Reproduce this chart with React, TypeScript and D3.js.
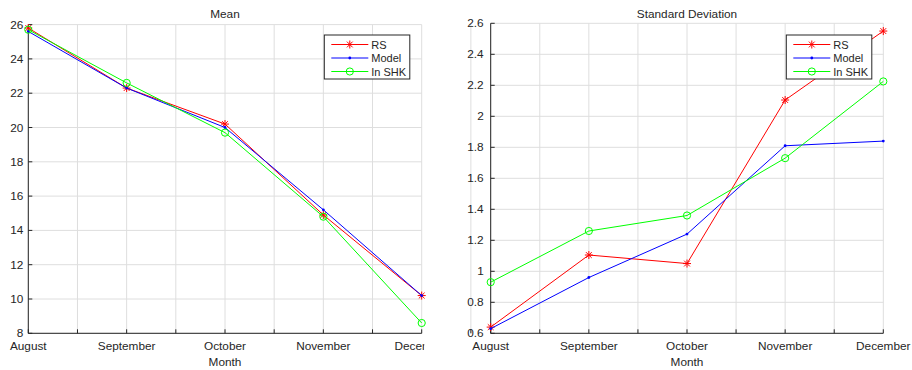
import React from "react";
import * as d3 from "d3";

const months = ["August", "September", "October", "November", "December"];
const seriesNames = ["RS", "Model", "In SHK"];
const seriesColors = ["#ff0000", "#0000ff", "#00ff00"];

const meanRS = [25.8, 22.3, 20.2, 14.9, 10.2];
const meanModel = [25.6, 22.3, 20.0, 15.2, 10.2];
const meanSHK = [25.7, 22.6, 19.7, 14.8, 8.6];
const meanTicks = [8, 10, 12, 14, 16, 18, 20, 22, 24, 26];

const sdRS = [0.64, 1.105, 1.05, 2.105, 2.55];
const sdModel = [0.63, 0.96, 1.24, 1.81, 1.84];
const sdSHK = [0.93, 1.26, 1.36, 1.73, 2.225];
const sdTicks = [0.6, 0.8, 1, 1.2, 1.4, 1.6, 1.8, 2, 2.2, 2.4, 2.6];

const FONT = "'Liberation Sans', Arial, Helvetica, sans-serif";
const TXT = "#262626";
const FS = 11.8;

function Marker({ kind, x, y, color }) {
  if (kind === 0) {
    const r = 4;
    const d = r * 0.72;
    return (
      <g stroke={color} strokeWidth={1}>
        <line x1={x - r} y1={y} x2={x + r} y2={y} />
        <line x1={x} y1={y - r} x2={x} y2={y + r} />
        <line x1={x - d} y1={y - d} x2={x + d} y2={y + d} />
        <line x1={x - d} y1={y + d} x2={x + d} y2={y - d} />
      </g>
    );
  }
  if (kind === 1) return <circle cx={x} cy={y} r={1.4} fill={color} />;
  return <circle cx={x} cy={y} r={3.6} fill="none" stroke={color} strokeWidth={1} />;
}

function Panel({ left, right, top, bottom, title, series, yDomain, yTicks, fmt, labelGap, legendX, clipRight, id }) {
  const x = d3.scaleLinear().domain([0, months.length - 1]).range([left, right]);
  const y = d3.scaleLinear().domain(yDomain).range([bottom, top]);
  const xTicks = d3.range(0, months.length - 0.5 + 0.01, 0.5);
  const line = d3
    .line<number>()
    .x((_, i) => x(i))
    .y((d) => y(d));
  const legendY = 35;
  return (
    <g fontFamily={FONT}>
      {clipRight != null && (
        <clipPath id={id}>
          <rect x={0} y={0} width={clipRight} height={370} />
        </clipPath>
      )}
      {xTicks.map((t) => (
        <line key={"gx" + t} x1={x(t)} x2={x(t)} y1={top} y2={bottom} stroke="#dedede" strokeWidth={1} />
      ))}
      {yTicks.map((t) => (
        <line key={"gy" + t} x1={left} x2={right} y1={y(t)} y2={y(t)} stroke="#dedede" strokeWidth={1} />
      ))}
      <line x1={left} x2={right} y1={bottom} y2={bottom} stroke={TXT} />
      <line x1={left} x2={left} y1={top} y2={bottom} stroke={TXT} />
      {xTicks.map((t) => (
        <line key={"tx" + t} x1={x(t)} x2={x(t)} y1={bottom} y2={bottom - 4} stroke={TXT} />
      ))}
      {yTicks.map((t) => (
        <line key={"ty" + t} x1={left} x2={left + 4} y1={y(t)} y2={y(t)} stroke={TXT} />
      ))}
      {yTicks.map((t) => (
        <text key={"ly" + t} x={left - labelGap} y={y(t) + 4} fontSize={FS} fill={TXT} textAnchor="end">
          {fmt(t)}
        </text>
      ))}
      <g clipPath={clipRight != null ? `url(#${id})` : undefined}>
        {months.map((m, i) => (
          <text key={m} x={x(i)} y={350} fontSize={FS} fill={TXT} textAnchor="middle">
            {m}
          </text>
        ))}
      </g>
      <text x={(left + right) / 2} y={365.5} fontSize={FS} fill={TXT} textAnchor="middle">
        Month
      </text>
      <text x={(left + right) / 2} y={18} fontSize={FS} fill={TXT} textAnchor="middle">
        {title}
      </text>
      {series.map((s, k) => (
        <g key={k}>
          <path d={line(s) || ""} fill="none" stroke={seriesColors[k]} strokeWidth={1} />
          {s.map((v, i) => (
            <Marker key={i} kind={k} x={x(i)} y={y(v)} color={seriesColors[k]} />
          ))}
        </g>
      ))}
      <rect x={legendX} y={legendY} width={85.5} height={44} fill="#fff" stroke={TXT} strokeWidth={1} />
      {seriesNames.map((n, k) => {
        const ly = legendY + 9.5 + k * 13.5;
        return (
          <g key={n}>
            <line x1={legendX + 7} x2={legendX + 44} y1={ly} y2={ly} stroke={seriesColors[k]} />
            <Marker kind={k} x={legendX + 25.5} y={ly} color={seriesColors[k]} />
            <text x={legendX + 47} y={ly + 4} fontSize={11} fill={TXT}>
              {n}
            </text>
          </g>
        );
      })}
    </g>
  );
}

export default function App() {
  return (
    <svg
      width={912}
      height={370}
      style={{ position: "absolute", left: 0, top: 0, background: "#fff" }}
    >
      <rect width={912} height={370} fill="#fff" />
      <Panel
        id="clipL"
        left={28.3}
        right={421.7}
        top={24.6}
        bottom={333.3}
        title="Mean"
        series={[meanRS, meanModel, meanSHK]}
        yDomain={[8, 26]}
        yTicks={meanTicks}
        fmt={(t) => String(t)}
        labelGap={5}
        legendX={324.3}
        clipRight={424.3}
      />
      <Panel
        id="clipR"
        left={490.7}
        right={883.3}
        top={23.3}
        bottom={333.3}
        title="Standard Deviation"
        series={[sdRS, sdModel, sdSHK]}
        yDomain={[0.6, 2.6]}
        yTicks={sdTicks}
        fmt={(t) => String(+t.toFixed(1))}
        labelGap={7}
        legendX={786.3}
        clipRight={null}
      />
    </svg>
  );
}
